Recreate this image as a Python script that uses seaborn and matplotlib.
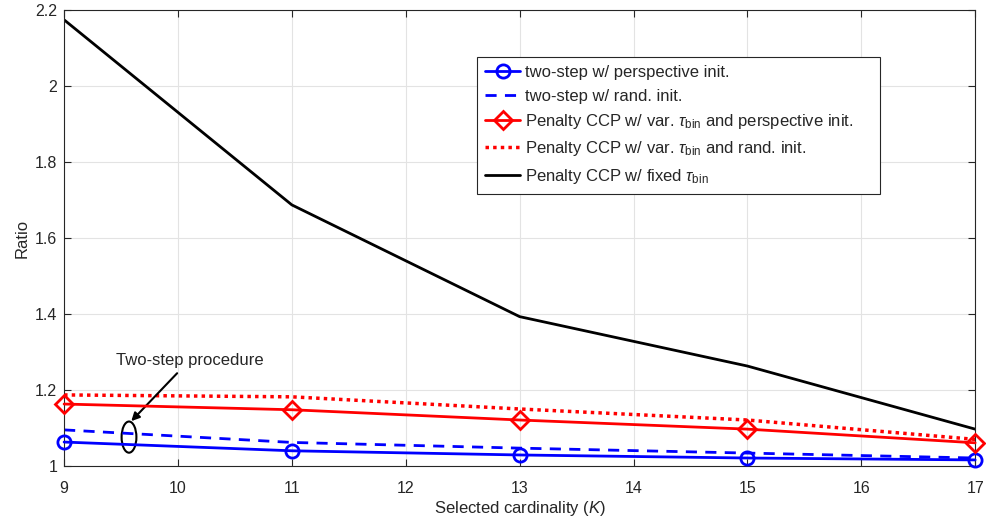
import matplotlib
matplotlib.use("Agg")
import matplotlib.pyplot as plt
from matplotlib.patches import Ellipse
import seaborn as sns
import numpy as np

K = [9, 11, 13, 15, 17]
two_step_persp = [1.063, 1.040, 1.029, 1.021, 1.016]
two_step_rand = [1.095, 1.062, 1.047, 1.034, 1.021]
ccp_var_persp = [1.163, 1.148, 1.121, 1.097, 1.061]
ccp_var_rand = [1.187, 1.182, 1.150, 1.121, 1.070]
ccp_fixed = [2.174, 1.687, 1.393, 1.263, 1.097]

sns.set_theme(style="whitegrid")
plt.rcParams['font.family'] = ['Liberation Sans', 'DejaVu Sans']
plt.rcParams['mathtext.fontset'] = 'custom'
plt.rcParams['mathtext.rm'] = 'Liberation Sans'
plt.rcParams['mathtext.it'] = 'Liberation Sans:italic'
plt.rcParams['mathtext.sf'] = 'Liberation Sans'

fig = plt.figure(figsize=(9.86, 5.23), dpi=100)
ax = fig.add_axes([0.065, 0.109, 0.924, 0.872])

sns.lineplot(x=K, y=two_step_persp, ax=ax, color='#0000ff', lw=2, marker='o', markersize=9.5,
             markerfacecolor='none', markeredgecolor='#0000ff', markeredgewidth=2,
             label='two-step w/ perspective init.', clip_on=False, zorder=5)
sns.lineplot(x=K, y=two_step_rand, ax=ax, color='#0000ff', lw=2, linestyle=(0, (4, 3)),
             label='two-step w/ rand. init.')
sns.lineplot(x=K, y=ccp_var_persp, ax=ax, color='#ff0000', lw=2, marker='D', markersize=9.5,
             markerfacecolor='none', markeredgecolor='#ff0000', markeredgewidth=2,
             label=r'Penalty CCP w/ var. $\tau_{\mathrm{bin}}$ and perspective init.' + '\u2003\u2003',
             clip_on=False, zorder=5)
sns.lineplot(x=K, y=ccp_var_rand, ax=ax, color='#ff0000', lw=2.5, linestyle=(0, (1, 1.2)),
             label=r'Penalty CCP w/ var. $\tau_{\mathrm{bin}}$ and rand. init.')
sns.lineplot(x=K, y=ccp_fixed, ax=ax, color='black', lw=2,
             label=r'Penalty CCP w/ fixed $\tau_{\mathrm{bin}}$')

ax.set_xlim(9, 17)
ax.set_ylim(1, 2.2)
ax.set_xticks(range(9, 18))
ax.set_yticks([1, 1.2, 1.4, 1.6, 1.8, 2, 2.2])
ax.set_yticklabels(['1', '1.2', '1.4', '1.6', '1.8', '2', '2.2'])
ax.set_facecolor('white')
ax.grid(True, color='#e3e3e3', lw=0.8)
for s in ax.spines.values():
    s.set_color('#262626')
    s.set_linewidth(0.8)
ax.tick_params(direction='in', length=5, width=0.8, colors='#262626', labelsize=11.5,
               top=True, right=True, bottom=True, left=True, labelcolor='#262626')
ax.tick_params(axis='x', pad=11)
ax.tick_params(axis='y', pad=5)
ax.set_xlabel('Selected cardinality ($K$)', fontsize=12, color='#262626', labelpad=2)
ax.set_ylabel('Ratio', fontsize=12, color='#262626')

leg = ax.legend(loc='upper left', bbox_to_anchor=(0.4533, 0.897), borderaxespad=0,
                fontsize=12, frameon=True,
                fancybox=False, edgecolor='#262626', framealpha=1, handlelength=2.1,
                labelspacing=0.5, borderpad=0.5, handletextpad=0.3)
leg.get_frame().set_linewidth(0.8)
leg.set_zorder(10)

ell = Ellipse((9.57, 1.076), 0.13, 0.082, fill=False, edgecolor='black', lw=1.5)
ax.add_patch(ell)
ax.annotate('Two-step procedure', xy=(9.59, 1.118), xytext=(10.1, 1.258),
            ha='center', va='bottom', fontsize=12,
            arrowprops=dict(arrowstyle='-|>', color='black', lw=1.5, shrinkA=2, shrinkB=0,
                            mutation_scale=12))

fig.savefig('out.png', dpi=100, facecolor='white')
